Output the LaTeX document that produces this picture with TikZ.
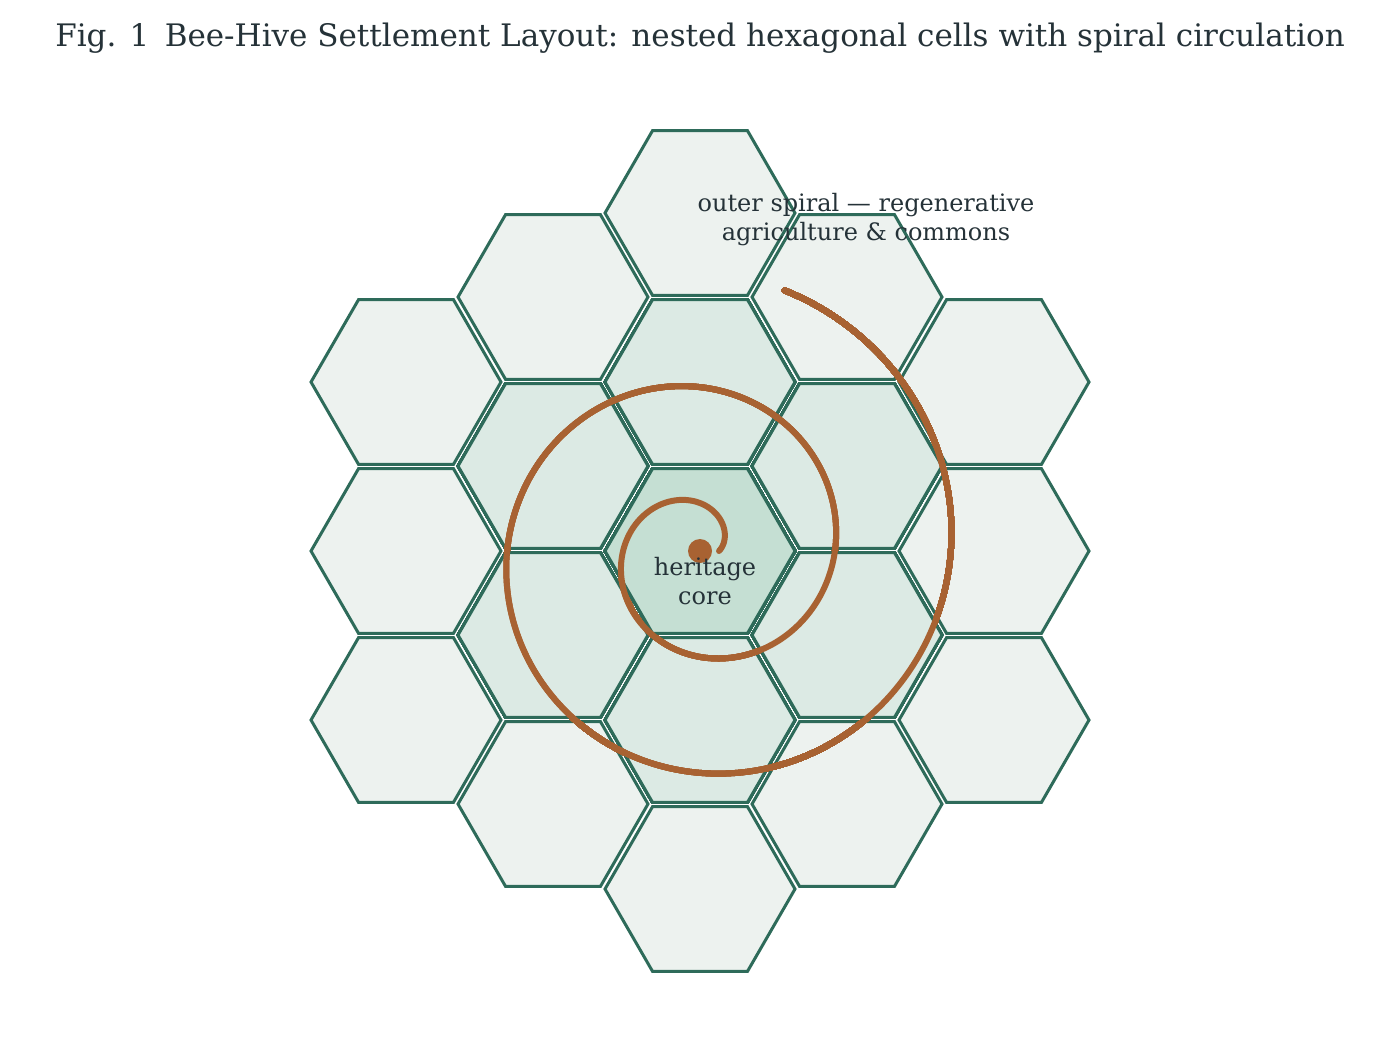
\documentclass[tikz,border=0pt]{standalone}
\usepackage{fontspec}
\setmainfont{DejaVu Serif}
\definecolor{inkc}{HTML}{253238}
\definecolor{cellline}{HTML}{2E6B5A}
\definecolor{corefill}{HTML}{C5DFD3}
\definecolor{midfill}{HTML}{DCEAE4}
\definecolor{outfill}{HTML}{EDF2EF}
\definecolor{spiralc}{HTML}{A86232}
\tikzset{
  cell/.style={draw=cellline, line width=1.5pt, line join=miter},
  spiral/.style={draw=spiralc, line width=3pt, line cap=round},
  lbl/.style={text=inkc, align=center, font=\fontsize{12}{14.5}\selectfont, inner sep=0pt}
}
\newcommand{\hexcell}[3]{%
  \draw[cell, fill=#3] (#1+95,#2) -- (#1+47.5,#2+82.3) -- (#1-47.5,#2+82.3)
    -- (#1-95,#2) -- (#1-47.5,#2-82.3) -- (#1+47.5,#2-82.3) -- cycle;}
\begin{document}
\begin{tikzpicture}[x=0.5pt, y=-0.5pt]
    \useasboundingbox (0,0) rectangle (1400,1040);
    \node[text=inkc, font=\fontsize{15.5}{18}\selectfont, inner sep=0pt] (title) at (700,38)
      {Fig. 1\enspace Bee-Hive Settlement Layout: nested hexagonal cells with spiral circulation};
    % outer ring
    \foreach \x/\y in {700/213, 700/889, 553/297, 847/297, 553/804, 847/804,
                       406/382, 994/382, 406/551, 994/551, 406/720, 994/720}
      \hexcell{\x}{\y}{outfill}
    % inner ring
    \foreach \x/\y in {700/382, 700/720, 553/466, 847/466, 553/635, 847/635}
      \hexcell{\x}{\y}{midfill}
    % core
    \hexcell{700}{551}{corefill}
    % spiral path
    \draw[spiral] plot[domain=0:792, samples=220, smooth]
      ({700+(19+0.322*\x)*cos(\x)}, {551-(19+0.322*\x)*sin(\x)});
    \fill[spiralc] (700,551) circle (12);
    \node[lbl] (core) at (705,581) {heritage\\core};
    \node[lbl] (outer) at (866,220) {outer spiral --- regenerative\\agriculture \& commons};
\end{tikzpicture}
\end{document}
